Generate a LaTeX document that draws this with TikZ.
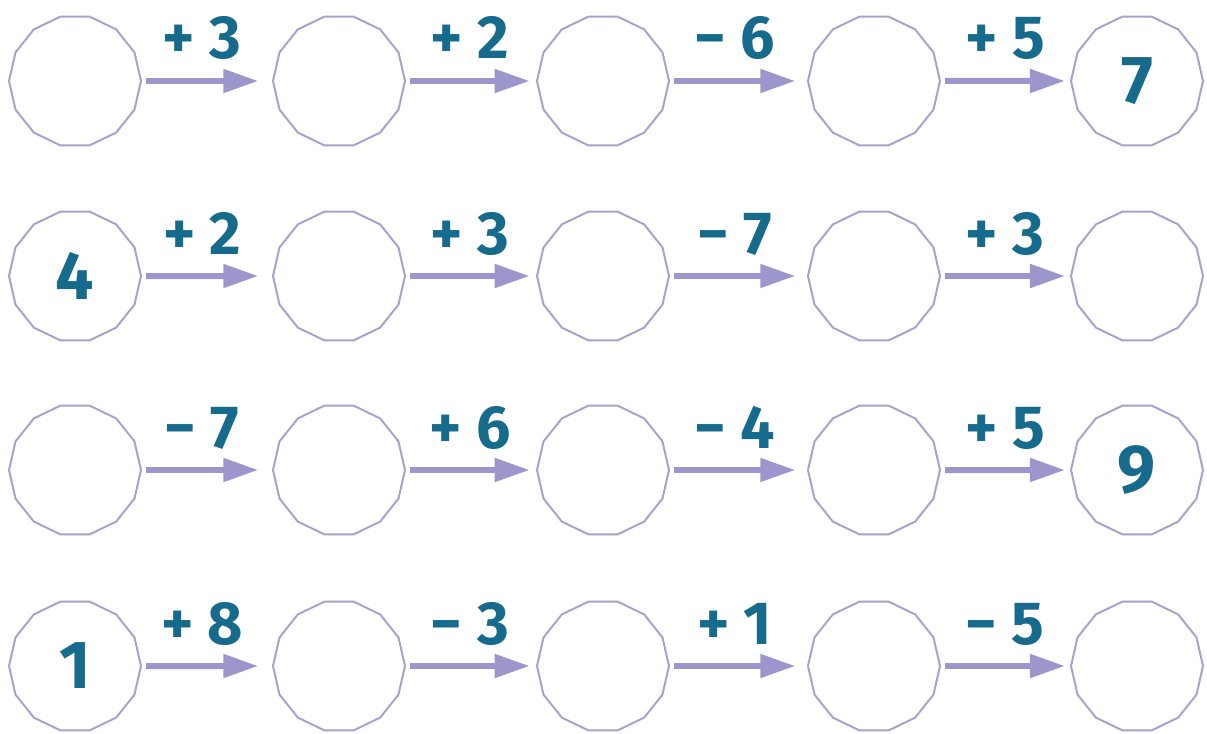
\documentclass[tikz,border=0pt]{standalone}
\usepackage{fontspec}
\setmainfont{Fira Sans}
\usetikzlibrary{shapes.geometric,arrows.meta}
\definecolor{ring}{RGB}{168,162,204}
\definecolor{arrowc}{RGB}{157,150,204}
\definecolor{numc}{RGB}{22,106,140}
\tikzset{
  ring/.style={regular polygon, regular polygon sides=14, minimum size=3.96cm, inner sep=0pt,
    draw=ring, line width=0.06cm, text=numc, font=\fontsize{58}{60}\selectfont\bfseries},
  oparrow/.style={draw=arrowc, line width=0.18cm, -{Triangle[length=1.05cm,width=0.68cm]}},
  oplabel/.style={anchor=base, text=numc, font=\fontsize{52}{60}\selectfont\bfseries, inner sep=0pt}
}
\begin{document}
\begin{tikzpicture}[x=0.03cm,y=-0.03cm]
\useasboundingbox (0,0) rectangle (1207,734);
\foreach \r/\y/\la/\lb/\lc/\ld/\ta/\te in {
  1/81/{+ 3}/{+ 2}/{− 6}/{+ 5}/{}/{7},
  2/276/{+ 2}/{+ 3}/{− 7}/{+ 3}/{4}/{},
  3/470/{− 7}/{+ 6}/{− 4}/{+ 5}/{}/{9},
  4/666/{+ 8}/{− 3}/{+ 1}/{− 5}/{1}/{}}{
  \node[ring] (c\r1) at (75,\y) {\ta};
  \node[ring] (c\r2) at (339,\y) {};
  \node[ring] (c\r3) at (603,\y) {};
  \node[ring] (c\r4) at (874,\y) {};
  \node[ring] (c\r5) at (1137,\y) {\te};
  \draw[oparrow] ([xshift=0.12cm]c\r1.east) -- node[oplabel, yshift=0.66cm] (l\r1) {\la} ([xshift=-0.41cm]c\r2.west);
  \draw[oparrow] ([xshift=0.12cm]c\r2.east) -- node[oplabel, yshift=0.66cm] (l\r2) {\lb} ([xshift=-0.19cm]c\r3.west);
  \draw[oparrow] ([xshift=0.12cm]c\r3.east) -- node[oplabel, yshift=0.66cm] (l\r3) {\lc} ([xshift=-0.35cm]c\r4.west);
  \draw[oparrow] ([xshift=0.12cm]c\r4.east) -- node[oplabel, yshift=0.66cm] (l\r4) {\ld} ([xshift=-0.15cm]c\r5.west);
}
\end{tikzpicture}
\end{document}
